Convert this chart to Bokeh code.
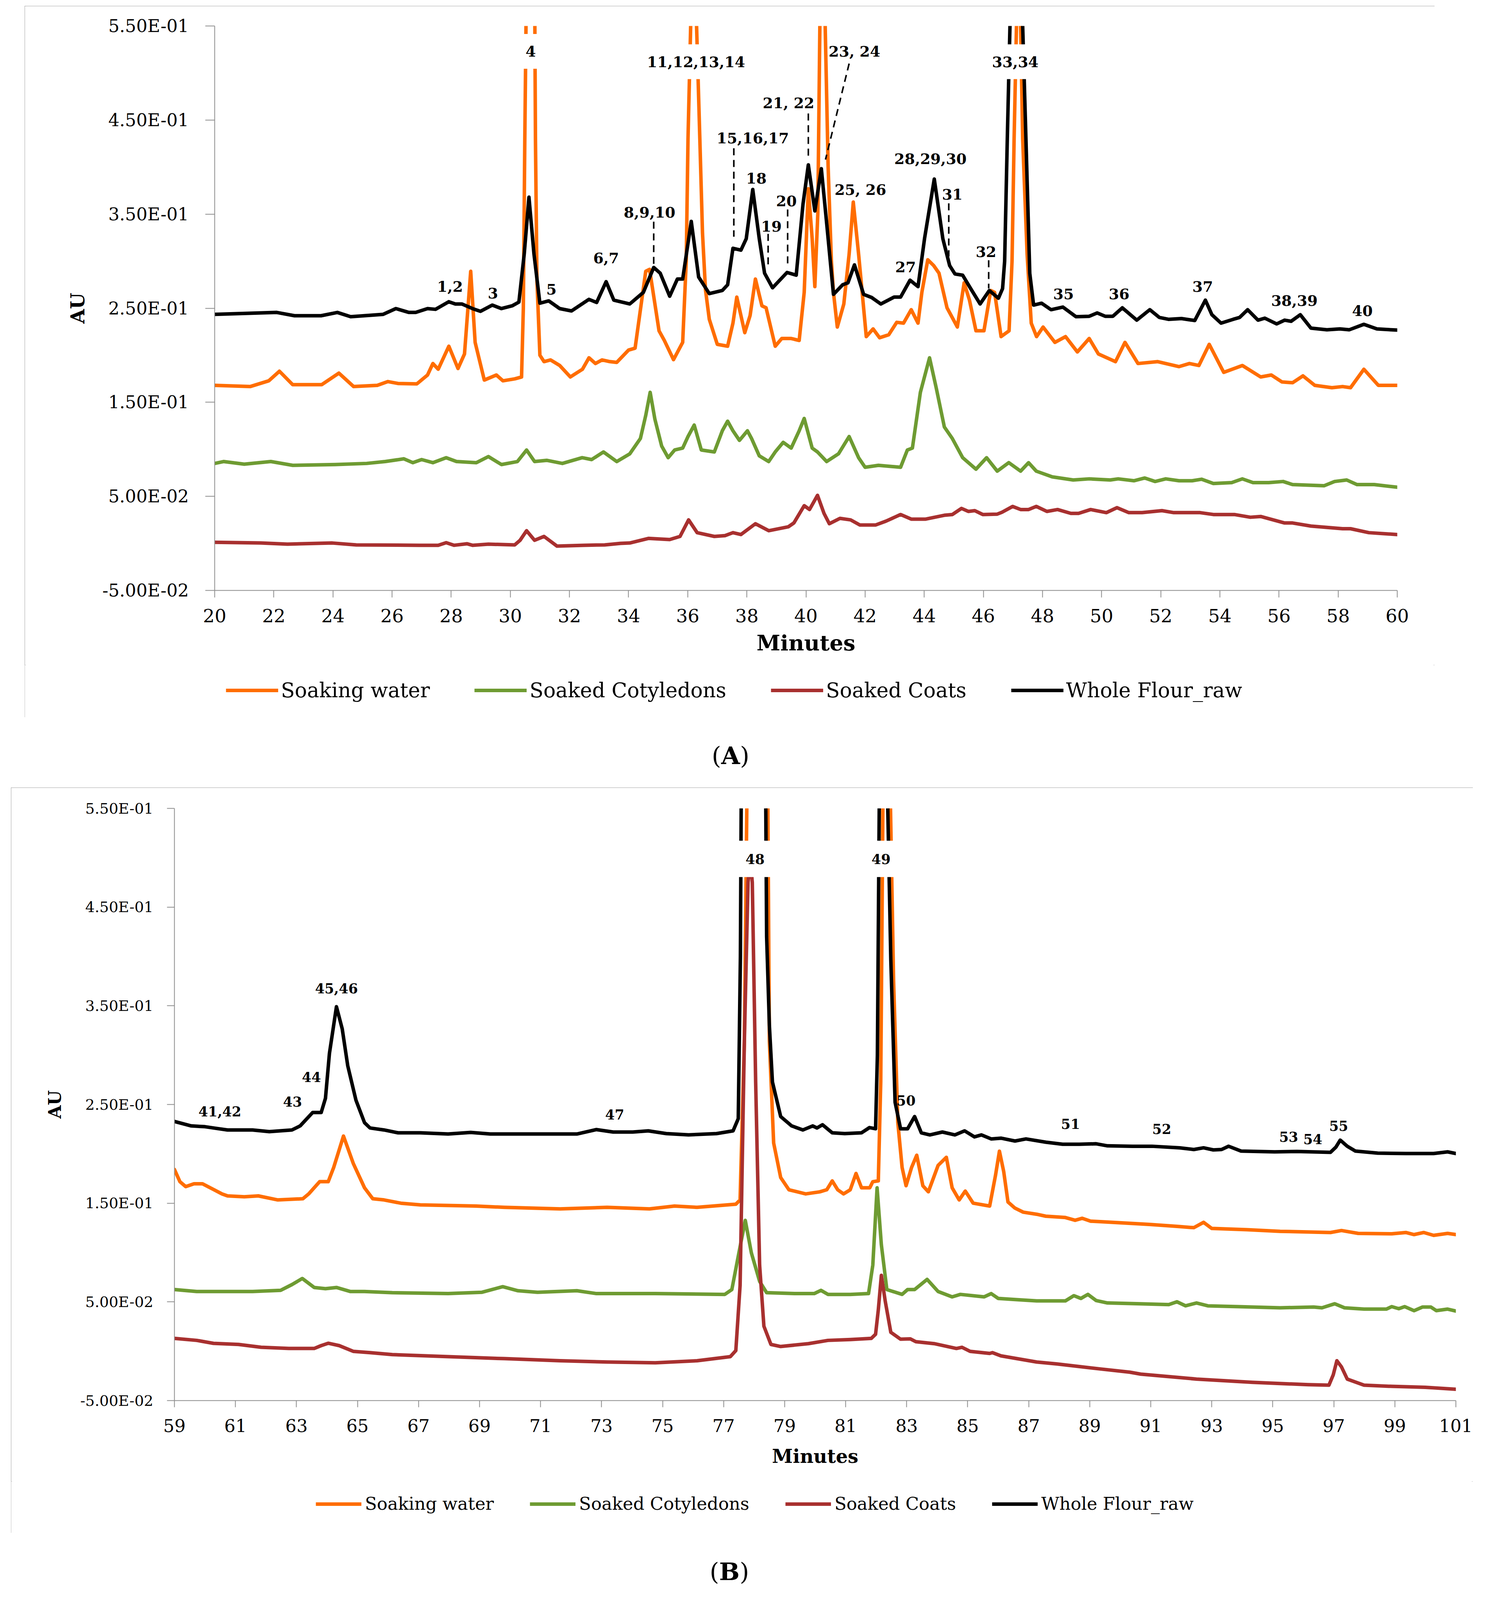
from bokeh.plotting import figure
from bokeh.models import (ColumnDataSource, FixedTicker, CustomJSTickFormatter,
                          Legend, LegendItem, Div, Range1d)
from bokeh.layouts import column
from bokeh.embed import file_html
from bokeh.resources import INLINE
from bokeh.core.properties import value

# ---------------------------------------------------------------- data
SERIES = ["Soaking water", "Soaked Cotyledons", "Soaked Coats", "Whole Flour_raw"]

# ----- Panel A (20-60 min): (minutes, AU)
SW_A = [(20, 0.168), (21.2, 0.1667), (21.83, 0.1728), (22.19, 0.183), (22.64, 0.1687), (23.62, 0.1687),
        (24.2, 0.181), (24.7, 0.1667), (25.5, 0.168), (25.86, 0.172), (26.2, 0.17), (26.84, 0.1696),
        (27.2, 0.179), (27.38, 0.1912), (27.56, 0.1851), (27.92, 0.2096), (28.23, 0.1859), (28.45, 0.2014),
        (28.66, 0.2892), (28.81, 0.2136), (29.12, 0.1736), (29.53, 0.179), (29.75, 0.1728), (30.15, 0.1749),
        (30.38, 0.1769), (30.44, 0.25), (30.49, 0.43), (30.53, 0.55), (30.68, 0.95), (30.83, 0.55),
        (30.85, 0.43), (30.9, 0.28), (31.0, 0.20), (31.14, 0.1932), (31.36, 0.195), (31.67, 0.1891),
        (32.03, 0.1769), (32.44, 0.1851), (32.66, 0.1973), (32.88, 0.1912), (33.1, 0.195), (33.37, 0.1932),
        (33.6, 0.1924), (34.0, 0.2055), (34.22, 0.2075), (34.58, 0.2892), (34.71, 0.2913), (35.03, 0.226),
        (35.21, 0.2157), (35.52, 0.1953), (35.83, 0.2137), (35.95, 0.30), (36.01, 0.43), (36.1, 0.55),
        (36.2, 0.61), (36.3, 0.55), (36.41, 0.43), (36.5, 0.33), (36.6, 0.27), (36.73, 0.2382),
        (37.0, 0.2116), (37.35, 0.2096), (37.53, 0.2341), (37.66, 0.2618), (37.93, 0.224), (38.11, 0.2422),
        (38.29, 0.281), (38.51, 0.2525), (38.65, 0.2505), (38.96, 0.2096), (39.18, 0.2178), (39.5, 0.2178),
        (39.77, 0.2157), (39.94, 0.2668), (40.08, 0.377), (40.21, 0.3239), (40.3, 0.2729), (40.4, 0.35),
        (40.47, 0.55), (40.56, 0.64), (40.65, 0.55), (40.75, 0.40), (40.86, 0.30), (40.93, 0.2668),
        (41.06, 0.23), (41.28, 0.2545), (41.46, 0.3076), (41.6, 0.3628), (41.78, 0.3076), (42.04, 0.2198),
        (42.27, 0.228), (42.49, 0.2186), (42.8, 0.2218), (43.07, 0.235), (43.3, 0.2341), (43.56, 0.2484),
        (43.79, 0.2341), (43.92, 0.2668), (44.12, 0.3015), (44.32, 0.2953), (44.5, 0.2872), (44.77, 0.2505),
        (45.12, 0.23), (45.35, 0.277), (45.53, 0.2586), (45.75, 0.226), (46.02, 0.226), (46.25, 0.2688),
        (46.38, 0.2668), (46.6, 0.2198), (46.87, 0.226), (46.97, 0.30), (47.04, 0.43), (47.12, 0.55),
        (47.19, 0.66), (47.26, 0.55), (47.33, 0.43), (47.48, 0.3076), (47.62, 0.2341), (47.8, 0.2198),
        (48.02, 0.23), (48.42, 0.2137), (48.78, 0.2198), (49.18, 0.2035), (49.58, 0.2178), (49.89, 0.2014),
        (50.47, 0.1932), (50.79, 0.2137), (51.23, 0.1912), (51.9, 0.1932), (52.62, 0.1879), (52.97, 0.1912),
        (53.29, 0.1891), (53.64, 0.2116), (54.13, 0.1818), (54.76, 0.1891), (55.38, 0.1769), (55.74, 0.179),
        (56.1, 0.1716), (56.46, 0.1708), (56.81, 0.1781), (57.21, 0.168), (57.79, 0.1655), (58.15, 0.1667),
        (58.42, 0.1655), (58.87, 0.1851), (59.36, 0.168), (60, 0.168)]

SCOT_A = [(20, 0.085), (20.3, 0.087), (21.0, 0.0842), (21.9, 0.087), (22.64, 0.083), (24.07, 0.0838),
          (25.14, 0.085), (25.77, 0.087), (26.4, 0.0899), (26.7, 0.0858), (27.0, 0.0891), (27.38, 0.0858),
          (27.83, 0.0911), (28.18, 0.087), (28.85, 0.0858), (29.26, 0.0923), (29.7, 0.0838), (30.24, 0.087),
          (30.55, 0.0993), (30.82, 0.087), (31.23, 0.0883), (31.76, 0.085), (32.43, 0.0911), (32.75, 0.0891),
          (33.15, 0.0972), (33.6, 0.087), (34.04, 0.0952), (34.4, 0.1115), (34.58, 0.136), (34.73, 0.1606),
          (34.89, 0.132), (35.12, 0.1034), (35.34, 0.0911), (35.56, 0.0993), (35.83, 0.1013), (36.01, 0.1136),
          (36.22, 0.1258), (36.46, 0.0993), (36.9, 0.0972), (37.17, 0.1197), (37.35, 0.1299), (37.53, 0.1197),
          (37.75, 0.1095), (38.02, 0.1197), (38.16, 0.1115), (38.42, 0.0931), (38.74, 0.087), (38.96, 0.0972),
          (39.23, 0.1074), (39.5, 0.1013), (39.77, 0.1197), (39.94, 0.1328), (40.21, 0.1013), (40.39, 0.0972),
          (40.7, 0.087), (41.1, 0.0952), (41.46, 0.1136), (41.78, 0.0911), (42.0, 0.0809), (42.45, 0.083),
          (43.2, 0.0809), (43.43, 0.0993), (43.6, 0.1013), (43.87, 0.1606), (44.18, 0.1973), (44.41, 0.1647),
          (44.68, 0.1238), (44.95, 0.1115), (45.3, 0.0911), (45.75, 0.0789), (46.11, 0.0911), (46.47, 0.0768),
          (46.86, 0.0858), (47.26, 0.0768), (47.53, 0.0858), (47.79, 0.0768), (48.33, 0.0707), (49.04, 0.0674),
          (49.58, 0.0686), (50.29, 0.0674), (50.56, 0.0686), (51.1, 0.0666), (51.46, 0.0695), (51.81, 0.0658),
          (52.17, 0.0686), (52.62, 0.0666), (53.06, 0.0666), (53.38, 0.0682), (53.78, 0.0637), (54.4, 0.0646),
          (54.76, 0.0686), (55.12, 0.0646), (55.65, 0.0646), (56.14, 0.0658), (56.46, 0.0625), (57.53, 0.0613),
          (57.88, 0.0658), (58.29, 0.0674), (58.64, 0.0625), (59.22, 0.0625), (60, 0.0597)]

SCOA_A = [(20, 0.0012), (21.56, 0.0004), (22.46, -0.0008), (23.98, 0.0004), (24.79, -0.0016), (26.93, -0.002),
          (27.56, -0.002), (27.83, 0.0008), (28.1, -0.002), (28.54, -0.0004), (28.72, -0.002), (29.26, -0.0008),
          (30.15, -0.0016), (30.33, 0.0033), (30.55, 0.0135), (30.82, 0.0033), (31.14, 0.0074), (31.58, -0.0029),
          (32.48, -0.002), (33.19, -0.0016), (33.73, 0.0), (34.04, 0.0004), (34.67, 0.0053), (35.39, 0.0041),
          (35.74, 0.0074), (36.03, 0.025), (36.32, 0.0114), (36.9, 0.0074), (37.26, 0.0082), (37.53, 0.0114),
          (37.8, 0.0094), (38.29, 0.0209), (38.74, 0.0135), (39.4, 0.0176), (39.59, 0.0217), (39.94, 0.0401),
          (40.12, 0.036), (40.39, 0.0511), (40.61, 0.0319), (40.79, 0.0209), (41.15, 0.0266), (41.51, 0.025),
          (41.82, 0.0196), (42.36, 0.0196), (42.71, 0.0237), (43.2, 0.0307), (43.56, 0.0258), (44.05, 0.0258),
          (44.68, 0.0299), (44.95, 0.0307), (45.26, 0.0372), (45.49, 0.034), (45.71, 0.0348), (45.98, 0.0307),
          (46.47, 0.0311), (46.63, 0.0331), (46.99, 0.0393), (47.26, 0.036), (47.53, 0.036), (47.79, 0.0393),
          (48.15, 0.034), (48.51, 0.036), (48.96, 0.0319), (49.22, 0.0319), (49.63, 0.036), (50.16, 0.0327),
          (50.52, 0.038), (50.92, 0.0327), (51.37, 0.0327), (52.04, 0.0348), (52.44, 0.0327), (53.33, 0.0327),
          (53.78, 0.0307), (54.49, 0.0307), (55.03, 0.0278), (55.38, 0.0286), (56.19, 0.0217), (56.46, 0.0217),
          (57.08, 0.0184), (58.15, 0.0156), (58.42, 0.0156), (59.04, 0.0114), (60, 0.0094)]

WF_A = [(20, 0.2435), (22.1, 0.2455), (22.7, 0.242), (23.6, 0.242), (24.15, 0.2455), (24.6, 0.241),
        (25.7, 0.2435), (26.13, 0.2496), (26.57, 0.2455), (26.8, 0.2455), (27.2, 0.2496), (27.47, 0.2488),
        (27.92, 0.2569), (28.14, 0.2545), (28.36, 0.2545), (28.72, 0.2496), (28.99, 0.2467), (29.39, 0.2533),
        (29.7, 0.2496), (30.06, 0.2525), (30.29, 0.2565), (30.47, 0.3076), (30.63, 0.368), (30.8, 0.3076),
        (31.0, 0.2553), (31.3, 0.2578), (31.67, 0.2496), (32.07, 0.2471), (32.66, 0.2594), (32.92, 0.2561),
        (33.24, 0.2782), (33.5, 0.2586), (34.04, 0.2545), (34.5, 0.2668), (34.85, 0.2933), (35.07, 0.2872),
        (35.39, 0.2627), (35.65, 0.281), (35.83, 0.281), (36.12, 0.3423), (36.37, 0.2831), (36.73, 0.2655),
        (37.17, 0.2688), (37.35, 0.2749), (37.53, 0.3137), (37.8, 0.3117), (37.98, 0.3239), (38.2, 0.3762),
        (38.42, 0.3239), (38.6, 0.2872), (38.87, 0.2717), (39.36, 0.288), (39.67, 0.2851), (39.9, 0.3607),
        (40.08, 0.4024), (40.3, 0.3534), (40.52, 0.3983), (40.7, 0.3403), (40.93, 0.2647), (41.24, 0.2749),
        (41.42, 0.277), (41.64, 0.2961), (41.95, 0.2647), (42.22, 0.2614), (42.53, 0.2545), (42.98, 0.2618),
        (43.2, 0.2618), (43.52, 0.2798), (43.79, 0.2729), (44.01, 0.3239), (44.34, 0.3873), (44.63, 0.3239),
        (44.86, 0.2953), (45.04, 0.2864), (45.3, 0.2851), (45.57, 0.2709), (45.89, 0.2545), (46.2, 0.2688),
        (46.51, 0.2606), (46.65, 0.2709), (46.72, 0.30), (46.81, 0.43), (46.9, 0.55), (47.12, 0.80),
        (47.33, 0.55), (47.44, 0.43), (47.57, 0.287), (47.7, 0.2533), (47.97, 0.2553), (48.29, 0.2484),
        (48.69, 0.2512), (49.13, 0.241), (49.58, 0.2414), (49.85, 0.245), (50.12, 0.2414), (50.38, 0.2414),
        (50.7, 0.2504), (51.19, 0.2373), (51.63, 0.2484), (51.95, 0.2402), (52.26, 0.2382), (52.7, 0.239),
        (53.15, 0.2369), (53.51, 0.2586), (53.73, 0.2431), (54.04, 0.2341), (54.45, 0.2382), (54.67, 0.2402),
        (54.94, 0.2484), (55.29, 0.2373), (55.52, 0.2394), (55.92, 0.2333), (56.19, 0.2373), (56.41, 0.2361),
        (56.72, 0.2431), (57.08, 0.2288), (57.62, 0.2271), (58.06, 0.228), (58.38, 0.2271), (58.87, 0.2329),
        (59.31, 0.228), (60, 0.2267)]

# ----- Panel B (59-101 min)
SW_B = [(59, 0.1842), (59.18, 0.1718), (59.37, 0.1668), (59.64, 0.1697), (59.92, 0.1697), (60.56, 0.1594),
        (60.74, 0.1574), (61.29, 0.1565), (61.75, 0.1574), (62.39, 0.1533), (63.21, 0.1545), (63.4, 0.1594),
        (63.76, 0.1718), (64.04, 0.1718), (64.22, 0.1862), (64.54, 0.218), (64.86, 0.1904), (65.23, 0.1656),
        (65.5, 0.1545), (65.87, 0.1533), (66.42, 0.15), (67.06, 0.1483), (68.89, 0.1471), (69.81, 0.1458),
        (71.64, 0.1442), (73.18, 0.1458), (74.57, 0.1442), (75.39, 0.1471), (76.13, 0.1458), (77.4, 0.149),
        (77.54, 0.1533), (77.68, 0.314), (77.76, 0.55), (77.82, 0.70), (78.4, 0.70), (78.45, 0.55),
        (78.5, 0.314), (78.64, 0.211), (78.87, 0.176), (79.14, 0.1636), (79.69, 0.1594), (80.15, 0.1615),
        (80.38, 0.1636), (80.56, 0.1726), (80.74, 0.1636), (80.93, 0.1594), (81.15, 0.1636), (81.34, 0.1801),
        (81.52, 0.1656), (81.79, 0.1656), (81.89, 0.1718), (82.07, 0.1726), (82.15, 0.2728), (82.22, 0.55),
        (82.35, 0.75), (82.47, 0.55), (82.57, 0.376), (82.71, 0.2316), (82.85, 0.1862), (82.98, 0.1677),
        (83.16, 0.1862), (83.33, 0.1986), (83.53, 0.1677), (83.71, 0.1615), (84.03, 0.1883), (84.3, 0.1965),
        (84.49, 0.1656), (84.72, 0.1533), (84.92, 0.1623), (85.18, 0.15), (85.72, 0.1471), (85.91, 0.178),
        (86.04, 0.2027), (86.18, 0.1821), (86.32, 0.1512), (86.55, 0.145), (86.82, 0.1409), (87.26, 0.1388),
        (87.56, 0.1368), (88.2, 0.1355), (88.52, 0.1327), (88.75, 0.1347), (89.03, 0.1318), (89.76, 0.1306),
        (90.95, 0.1285), (91.86, 0.1265), (92.41, 0.1252), (92.73, 0.1306), (93.0, 0.1244), (94.15, 0.1232),
        (95.24, 0.1215), (96.89, 0.1203), (97.25, 0.1223), (97.8, 0.1194), (98.9, 0.119), (99.36, 0.1203),
        (99.63, 0.1182), (99.95, 0.1203), (100.27, 0.1174), (100.73, 0.1194), (101, 0.1182)]

SCOT_B = [(59, 0.0625), (59.73, 0.0605), (61.56, 0.0605), (62.48, 0.0617), (62.85, 0.0675), (63.19, 0.0737),
          (63.58, 0.0646), (63.95, 0.0634), (64.31, 0.0646), (64.77, 0.0605), (65.23, 0.0605), (66.14, 0.0593),
          (67.97, 0.0584), (69.07, 0.0597), (69.76, 0.0654), (70.26, 0.0613), (70.9, 0.0597), (72.19, 0.0613),
          (72.83, 0.0584), (74.76, 0.0584), (77.04, 0.0576), (77.27, 0.0625), (77.5, 0.0996), (77.71, 0.1326),
          (77.91, 0.0996), (78.18, 0.0708), (78.41, 0.0593), (79.33, 0.0584), (79.97, 0.0584), (80.19, 0.0617),
          (80.42, 0.0576), (81.15, 0.0576), (81.75, 0.0584), (81.89, 0.0873), (82.03, 0.1656), (82.17, 0.1079),
          (82.35, 0.0625), (82.85, 0.0576), (83.03, 0.0625), (83.26, 0.0625), (83.67, 0.0728), (84.03, 0.0605),
          (84.49, 0.0551), (84.76, 0.0576), (85.54, 0.0551), (85.77, 0.0584), (86.0, 0.0535), (86.64, 0.0522),
          (87.26, 0.051), (88.2, 0.051), (88.48, 0.0563), (88.71, 0.0535), (88.94, 0.0576), (89.21, 0.0514),
          (89.58, 0.0489), (90.67, 0.0481), (91.59, 0.0473), (91.86, 0.0501), (92.14, 0.046), (92.5, 0.0489),
          (92.87, 0.046), (93.87, 0.0452), (95.24, 0.044), (96.34, 0.0448), (96.61, 0.044), (97.03, 0.0481),
          (97.35, 0.044), (97.99, 0.0427), (98.72, 0.0427), (98.9, 0.0452), (99.13, 0.0431), (99.32, 0.0452),
          (99.63, 0.0411), (99.91, 0.0448), (100.18, 0.0448), (100.36, 0.0411), (100.73, 0.0427), (101, 0.0407)]

SCOA_B = [(59, 0.013), (59.73, 0.011), (60.28, 0.008), (61.1, 0.0069), (61.84, 0.004), (62.75, 0.0028),
          (63.58, 0.0028), (63.81, 0.0057), (64.04, 0.0081), (64.4, 0.0057), (64.86, -0.0001), (65.41, -0.0014),
          (66.14, -0.0034), (67.97, -0.0055), (69.81, -0.0075), (71.64, -0.0096), (73.18, -0.0109),
          (74.76, -0.0117), (76.13, -0.0096), (77.22, -0.0055), (77.4, 0.0007), (77.54, 0.0667), (77.68, 0.314),
          (77.8, 0.475), (77.87, 0.50), (77.94, 0.475), (78.05, 0.273), (78.18, 0.0873), (78.32, 0.0254),
          (78.55, 0.0069), (78.87, 0.0048), (79.78, 0.0077), (80.42, 0.011), (81.15, 0.0118), (81.84, 0.013),
          (81.98, 0.0172), (82.07, 0.0419), (82.17, 0.0769), (82.3, 0.0502), (82.48, 0.0192), (82.8, 0.0122),
          (83.12, 0.0125), (83.3, 0.0097), (83.9, 0.0077), (84.63, 0.0028), (84.81, 0.004), (85.08, -0.0001),
          (85.72, -0.0022), (85.81, -0.0014), (86.09, -0.0047), (87.26, -0.0109), (87.93, -0.0129),
          (89.3, -0.0178), (90.31, -0.0212), (90.67, -0.0232), (92.5, -0.0282), (94.33, -0.0315),
          (96.16, -0.0339), (96.84, -0.0344), (96.98, -0.024), (97.1, -0.0096), (97.25, -0.0158),
          (97.44, -0.0282), (97.99, -0.0344), (98.9, -0.0356), (99.99, -0.0365), (101, -0.0385)]

WF_B = [(59, 0.2328), (59.55, 0.2283), (60.0, 0.2275), (60.37, 0.2258), (60.74, 0.2242), (61.56, 0.2242),
        (62.11, 0.2225), (62.85, 0.2242), (63.12, 0.2283), (63.53, 0.2419), (63.81, 0.2419), (63.95, 0.2563),
        (64.08, 0.3017), (64.31, 0.3491), (64.5, 0.3265), (64.68, 0.2893), (64.95, 0.2543), (65.23, 0.2316),
        (65.41, 0.2262), (65.87, 0.2242), (66.33, 0.2213), (67.06, 0.2213), (67.97, 0.2201), (68.71, 0.2217),
        (69.35, 0.2201), (70.72, 0.2201), (72.19, 0.2201), (72.83, 0.2246), (73.38, 0.2221), (74.02, 0.2221),
        (74.53, 0.2233), (75.12, 0.2205), (75.85, 0.2192), (76.77, 0.2205), (77.31, 0.2233), (77.48, 0.2357),
        (77.55, 0.40), (77.6, 0.70), (78.35, 0.70), (78.41, 0.42), (78.5, 0.33), (78.6, 0.2728),
        (78.87, 0.2378), (79.23, 0.2283), (79.6, 0.2242), (79.92, 0.2283), (80.06, 0.2262), (80.24, 0.2295),
        (80.56, 0.2213), (80.97, 0.2205), (81.52, 0.2213), (81.78, 0.2266), (81.98, 0.2254), (82.04, 0.30),
        (82.1, 0.55), (82.25, 0.75), (82.38, 0.55), (82.48, 0.3965), (82.62, 0.2522), (82.8, 0.2254),
        (83.03, 0.2254), (83.26, 0.2378), (83.48, 0.2213), (83.76, 0.2192), (84.17, 0.2221), (84.58, 0.2192),
        (84.9, 0.2233), (85.22, 0.2172), (85.45, 0.2192), (85.77, 0.2151), (86.09, 0.2159), (86.55, 0.213),
        (86.91, 0.2151), (87.56, 0.2118), (88.11, 0.2097), (88.66, 0.2097), (89.21, 0.2102), (89.58, 0.2081),
        (90.4, 0.2077), (91.04, 0.2077), (91.95, 0.2061), (92.41, 0.2044), (92.73, 0.2061), (93.05, 0.204),
        (93.32, 0.2044), (93.55, 0.2077), (93.96, 0.2028), (95.06, 0.202), (95.79, 0.2024), (96.89, 0.2015),
        (97.07, 0.2069), (97.21, 0.2139), (97.44, 0.2077), (97.71, 0.2028), (98.44, 0.2007), (99.36, 0.2003),
        (100.27, 0.2003), (100.73, 0.202), (101, 0.2003)]

# ----- axes
Y_TICKS = [-0.05, 0.05, 0.15, 0.25, 0.35, 0.45, 0.55]
Y_TICK_LABELS = ["-5.00E-02", "5.00E-02", "1.50E-01", "2.50E-01", "3.50E-01", "4.50E-01", "5.50E-01"]
X_TICKS_A = list(range(20, 61, 2))
X_TICKS_B = list(range(59, 102, 2))

# ----- peak annotations
LAB_A_TEXT = ["1,2", "3", "4", "5", "6,7", "8,9,10", "11,12,13,14", "15,16,17", "18", "19", "20",
              "21, 22", "23, 24", "25, 26", "27", "28,29,30", "31", "32", "33,34", "35", "36", "37",
              "38,39", "40"]
LAB_A_X = [27.96, 29.41, 30.69, 31.39, 33.24, 34.71, 36.28, 38.2, 38.32, 38.83, 39.34, 39.41, 41.64,
           41.84, 43.37, 44.21, 44.95, 46.09, 47.08, 48.71, 50.59, 53.42, 56.52, 58.82]
LAB_A_Y = [0.273, 0.266, 0.523, 0.270, 0.3035, 0.352, 0.512, 0.431, 0.388, 0.337, 0.364, 0.468, 0.523,
           0.376, 0.294, 0.409, 0.371, 0.310, 0.512, 0.265, 0.265, 0.273, 0.258, 0.2471]
MASKED_A = ["4", "11,12,13,14", "33,34"]          # labels drawn over the off-scale peaks
LEAD_A = [(34.85, 0.342, 34.85, 0.297), (37.56, 0.420, 37.56, 0.326), (38.72, 0.329, 38.72, 0.296),
          (39.38, 0.355, 39.38, 0.293), (40.08, 0.457, 40.08, 0.412), (41.46, 0.510, 40.66, 0.408),
          (44.83, 0.3615, 44.83, 0.305), (46.18, 0.301, 46.18, 0.271)]

LAB_B_TEXT = ["41,42", "43", "44", "45,46", "47", "48", "49", "50", "51", "52", "53", "54", "55"]
LAB_B_X = [60.49, 62.87, 63.49, 64.31, 73.43, 78.03, 82.16, 82.98, 88.37, 91.36, 95.52, 96.31, 97.16]
LAB_B_Y = [0.2432, 0.253, 0.2778, 0.3677, 0.2399, 0.4988, 0.4988, 0.2543, 0.2304, 0.2254, 0.2172,
           0.2151, 0.2283]
MASKED_B = ["48", "49"]
LEAD_B = []

# ---------------------------------------------------------------- style
FONT = "DejaVu Serif"
COLORS = ["#FF6D00", "#6E9B32", "#A8302F", "#000000"]
AXIS_GRAY = "#8C8C8C"
BOX = {"outline": "3px solid #8A8A8A", "outline-offset": "-3px"}


def ylab_formatter():
    return CustomJSTickFormatter(args=dict(yt=Y_TICKS, yl=Y_TICK_LABELS), code="""
        for (let i = 0; i < yt.length; i++) {
            if (Math.abs(tick - yt[i]) < 1e-9) { return yl[i]; }
        }
        return "";
    """)


def make_panel(data, xr, xticks, lab_text, lab_x, lab_y, masked, leads, cfg):
    p = figure(width=cfg["W"], height=cfg["H"], x_range=Range1d(*xr), y_range=Range1d(-0.05, 0.55),
               output_backend="svg", toolbar_location=None,
               min_border_left=cfg["bl"], min_border_right=cfg["br"],
               min_border_top=cfg["bt"], min_border_bottom=cfg["bb"])
    p.frame_align = False
    p.outline_line_color = None
    p.grid.visible = False

    for pts, col in zip(data, COLORS):
        t = [a for a, _ in pts]
        v = [b for _, b in pts]
        p.line(t, v, line_color=col, line_width=cfg["lw"], line_join="round", line_cap="round")

    # white boxes behind the labels of off-scale peaks
    mi = [i for i, s in enumerate(lab_text) if s in masked]
    if mi:
        p.rect(x=[lab_x[i] for i in mi], y=[lab_y[i] for i in mi],
               width=[len(lab_text[i]) * cfg["lab_fs"] * 0.66 + 40 for i in mi],
               height=cfg["mask_h"], width_units="screen", height_units="screen",
               fill_color="white", line_color=None)

    if leads:
        p.segment(x0=[l[0] for l in leads], y0=[l[1] for l in leads],
                  x1=[l[2] for l in leads], y1=[l[3] for l in leads],
                  line_color="black", line_width=4, line_dash="18 12")

    src = ColumnDataSource(dict(x=lab_x, y=lab_y, text=lab_text))
    p.text(x="x", y="y", text="text", source=src, text_font=value(FONT),
           text_font_size=value(f"{cfg['lab_fs']}px"), text_font_style="bold",
           text_align="center", text_baseline="middle", text_color="black")

    xa, ya = p.xaxis[0], p.yaxis[0]
    xa.ticker = FixedTicker(ticks=xticks)
    ya.ticker = FixedTicker(ticks=Y_TICKS)
    ya.formatter = ylab_formatter()
    for ax in (xa, ya):
        ax.axis_line_color = AXIS_GRAY
        ax.axis_line_width = 2
        ax.major_tick_line_color = AXIS_GRAY
        ax.major_tick_line_width = 2
        ax.major_tick_in = 0
        ax.minor_tick_line_color = None
        ax.major_label_text_font = FONT
        ax.major_label_text_color = "black"
        ax.axis_label_text_font = FONT
        ax.axis_label_text_font_style = "bold"
        ax.axis_label_text_color = "black"
    xa.major_tick_out = cfg["xtick"]
    ya.major_tick_out = cfg["ytick"]
    xa.major_label_text_font_size = f"{cfg['xfs']}px"
    ya.major_label_text_font_size = f"{cfg['yfs']}px"
    xa.major_label_standoff = cfg["xstand"]
    ya.major_label_standoff = cfg["ystand"]
    xa.axis_label = "Minutes"
    ya.axis_label = "AU"
    xa.axis_label_text_font_size = f"{cfg['xlfs']}px"
    ya.axis_label_text_font_size = f"{cfg['ylfs']}px"
    xa.axis_label_standoff = cfg["xlstand"]
    ya.axis_label_standoff = cfg["ylstand"]
    return p


def make_legend(data, cfg):
    # legend strip: the same series are drawn here, but outside the visible range,
    # so that only their legend keys show
    q = figure(width=cfg["W"], height=cfg["LH"], x_range=Range1d(-1000, -999), y_range=Range1d(0, 1),
               x_axis_type=None, y_axis_type=None, output_backend="svg", toolbar_location=None,
               min_border_left=0, min_border_right=0, min_border_top=0, min_border_bottom=0)
    q.frame_align = False
    q.outline_line_color = None
    q.grid.visible = False
    rs = []
    for pts, col in zip(data, COLORS):
        rs.append(q.line([a for a, _ in pts], [b for _, b in pts], line_color=col, line_width=cfg["lw"]))
    leg = Legend(items=[LegendItem(label=s, renderers=[r]) for s, r in zip(SERIES, rs)],
                 orientation="horizontal", location=cfg["legloc"],
                 glyph_width=cfg["gw"], glyph_height=20, label_standoff=cfg["lstand"],
                 spacing=cfg["lspace"], padding=0, margin=0,
                 border_line_color=None, background_fill_alpha=0,
                 label_text_font=FONT, label_text_font_size=f"{cfg['legfs']}px",
                 label_text_color="black")
    q.add_layout(leg, "center")
    return q


CFG_A = dict(W=3609, H=1687, LH=134, bl=486, br=96, bt=51, bb=191, lw=9, lab_fs=38, mask_h=89,
             xtick=18, ytick=24, xfs=47, yfs=45, xstand=29, ystand=42, xlfs=55, ylfs=48,
             xlstand=17, ylstand=32, legloc=(515, 39), gw=134, lstand=7, lspace=114, legfs=52)
CFG_B = dict(W=3742, H=1776, LH=132, bl=418, br=44, bt=53, bb=207, lw=9, lab_fs=35, mask_h=93,
             xtick=17, ytick=19, xfs=45, yfs=38, xstand=30, ystand=35, xlfs=48, ylfs=44,
             xlstand=31, ylstand=36, legloc=(780, 48), gw=117, lstand=9, lspace=92, legfs=45)

DATA_A = [SW_A, SCOT_A, SCOA_A, WF_A]
DATA_B = [SW_B, SCOT_B, SCOA_B, WF_B]

pA = make_panel(DATA_A, (20, 60), X_TICKS_A, LAB_A_TEXT, LAB_A_X, LAB_A_Y, MASKED_A, LEAD_A, CFG_A)
pB = make_panel(DATA_B, (59, 101), X_TICKS_B, LAB_B_TEXT, LAB_B_X, LAB_B_Y, MASKED_B, LEAD_B, CFG_B)
legA = make_legend(DATA_A, CFG_A)
legB = make_legend(DATA_B, CFG_B)

boxA = column(pA, legA, spacing=0, styles=BOX, margin=(15, 0, 0, 63))
boxB = column(pB, legB, spacing=0, styles=BOX, margin=(0, 0, 0, 28))


def caption(letter, width, height, pad):
    html = (f'<div style="padding-top:{pad}px; width:{width}px; text-align:center; '
            f'font-family:\'DejaVu Serif\'; font-size:62px; line-height:76px; color:black;">'
            f'(<b>{letter}</b>)</div>')
    return Div(text=html, width=width, height=height, margin=0)


capA = caption("A", 3740, 180, 61)
capB = caption("B", 3734, 140, 62)

layout = column(boxA, capA, boxB, capB, spacing=0)
with open("out.html", "w", encoding="utf-8") as f:
    f.write(file_html(layout, INLINE))
